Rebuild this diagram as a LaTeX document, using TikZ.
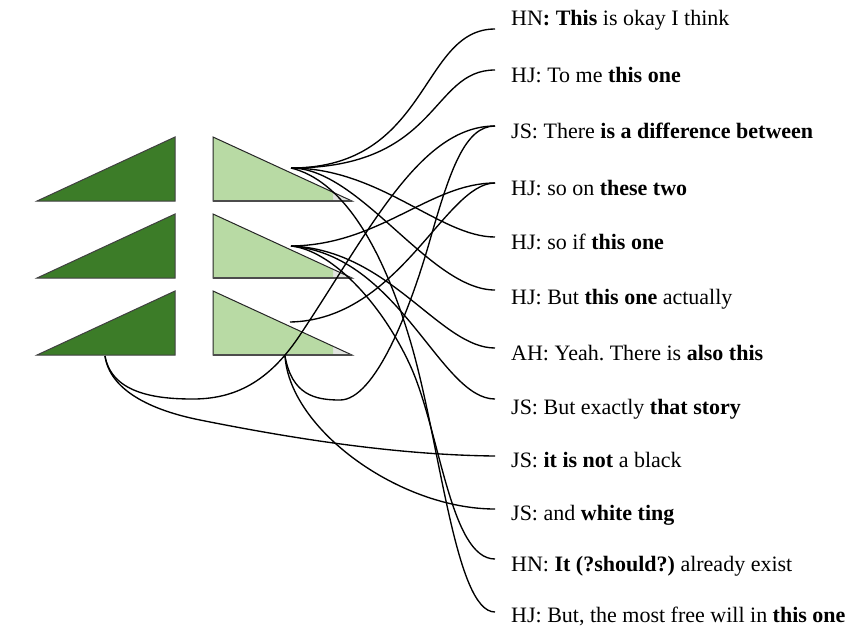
\documentclass[tikz,border=0pt]{standalone}
\usepackage{fontspec}
\setmainfont{Liberation Serif}
\frenchspacing
\definecolor{leafdark}{RGB}{60,124,40}
\definecolor{leaflight}{RGB}{184,218,164}
\definecolor{tipgray}{RGB}{226,229,224}
\begin{document}
\begin{tikzpicture}[x=1pt,y=-1pt,
  darktri/.style={draw=black!75,line width=1pt,fill=leafdark,line join=miter},
  triedge/.style={draw=black!85,line width=1pt,line join=miter},
  link/.style={draw=black,line width=1.35pt},
  lbl/.style={anchor=base west,inner sep=0pt,font=\fontsize{22}{26}\selectfont}]
\useasboundingbox (0,0) rectangle (850,630);
\fill[white] (0,0) rectangle (850,630);

% dark triangles on the left, light ones beside them
\foreach \t in {137,214,291} {
  \path[darktri] (37,\t+64) -- (175,\t) -- (175,\t+64) -- cycle;
  \fill[tipgray] (213,\t) -- (213,\t+64) -- (352,\t+64) -- cycle;
  \begin{scope}
    \clip (0,0) rectangle (333,630);
    \fill[leaflight] (213,\t) -- (213,\t+64) -- (352,\t+64) -- cycle;
  \end{scope}
  \path[triedge] (213,\t) -- (213,\t+64) -- (352,\t+64) -- cycle;
  \draw[black!70,line width=1.6pt] (213,\t+64) -- (352,\t+64);
}

% starting points of the links
\coordinate (T1) at (291,168);
\coordinate (M)  at (291,246);
\coordinate (BH) at (290,322);
\coordinate (BB) at (285,356);
\coordinate (DB) at (105,356);

% quotes
\node[lbl] (q1)  at (511,25)  {HN\textbf{: This} is okay I think};
\node[lbl] (q2)  at (511,82)  {HJ: To me \textbf{this one}};
\node[lbl] (q3)  at (511,138) {JS: There \textbf{is a difference between}};
\node[lbl] (q4)  at (511,195) {HJ: so on \textbf{these two}};
\node[lbl] (q5)  at (511,249) {HJ: so if \textbf{this one}};
\node[lbl] (q6)  at (511,304) {HJ: But \textbf{this one} actually};
\node[lbl] (q7)  at (511,360) {AH: Yeah. There is \textbf{also this}};
\node[lbl] (q8)  at (511,414) {JS: But exactly \textbf{that story}};
\node[lbl] (q9)  at (511,467) {JS: \textbf{it is not} a black};
\node[lbl] (q10) at (511,520) {JS: and \textbf{white ting}};
\node[lbl] (q11) at (511,571) {HN: \textbf{It (?should?)} already exist};
\node[lbl] (q12) at (511,622) {HJ: But, the most free will in \textbf{this one}};

% link end points in front of each quote
\coordinate (e1)  at (495,29);
\coordinate (e2)  at (495,70);
\coordinate (e3)  at (495,126);
\coordinate (e4)  at (495,183);
\coordinate (e5)  at (495,237);
\coordinate (e6)  at (495,290);
\coordinate (e7)  at (495,348);
\coordinate (e8)  at (495,399);
\coordinate (e9)  at (495,456);
\coordinate (e10) at (495,509);
\coordinate (e11) at (495,559);
\coordinate (e12) at (495,612);

% links from the top light triangle
\draw[link] (T1) .. controls (430,168) and (420,29) .. (e1);
\draw[link] (T1) .. controls (440,168) and (430,70) .. (e2);
\draw[link] (T1) .. controls (380,168) and (440,237) .. (e5);
\draw[link] (T1) .. controls (360,168) and (430,290) .. (e6);
\draw[link] (T1) .. controls (340,180) and (380,240) .. (410,340)
                 .. controls (440,440) and (455,612) .. (e12);

% links from the middle light triangle
\draw[link] (M) .. controls (380,245) and (430,183) .. (e4);
\draw[link] (M) .. controls (390,250) and (440,348) .. (e7);
\draw[link] (M) .. controls (400,255) and (440,399) .. (e8);
\draw[link] (M) .. controls (330,250) and (380,300) .. (410,365)
                .. controls (440,430) and (450,559) .. (e11);

% links from the bottom light triangle
\draw[link] (BH) .. controls (400,320) and (445,183) .. (e4);
\draw[link] (BB) .. controls (292,395) and (315,400) .. (340,400)
                 .. controls (375,400) and (410,310) .. (430,240)
                 .. controls (450,170) and (465,126) .. (e3);
\draw[link] (BB) .. controls (290,430) and (400,509) .. (e10);

% links from the bottom dark triangle
\draw[link] (DB) .. controls (112,395) and (160,399) .. (193,399)
                 .. controls (240,399) and (272,377) .. (300,335)
                 .. controls (370,230) and (420,126) .. (e3);
\draw[link] (DB) .. controls (110,390) and (150,410) .. (200,420)
                 .. controls (300,440) and (400,455) .. (e9);
\end{tikzpicture}
\end{document}
